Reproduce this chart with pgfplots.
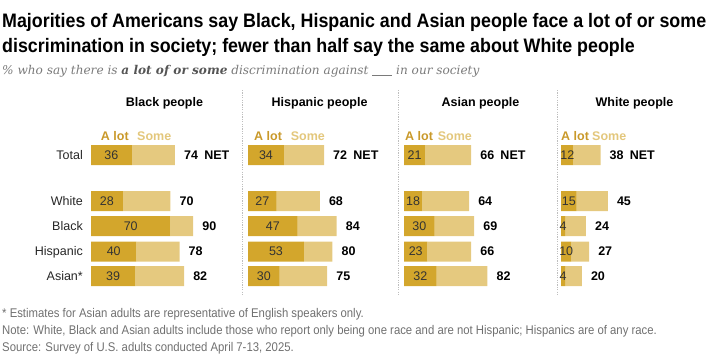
\documentclass[border=0pt]{standalone}
\usepackage{pgfplots}
\pgfplotsset{compat=1.18}
\usepackage{fontspec}
\setmainfont{Liberation Sans}
\newfontfamily\titlefont[FakeStretch=0.915]{Liberation Sans}
\newfontfamily\notefont[FakeStretch=0.9]{Liberation Sans}
\newfontfamily\subfont{DejaVu Serif}
\definecolor{alot}{HTML}{D3A62C}
\definecolor{some}{HTML}{E5C97F}
\definecolor{alottext}{HTML}{C9992A}
\definecolor{sometext}{HTML}{E3C77C}
\definecolor{notegray}{HTML}{707070}
\definecolor{subgray}{HTML}{7A7A7A}
\definecolor{subdark}{HTML}{555555}
\definecolor{divgray}{HTML}{BEBEBE}
\pgfplotsset{
  pewbase/.style={bar width=20, hide axis, clip=false,
    xmin=0, xmax=100, ymin=-290, ymax=0,
    x=#1, y=1bp, anchor=origin,
    /pgf/number format/assume math mode=true},
  pew/.style={pewbase=#1, xbar stacked},
  pewlab/.style={pewbase=#1, xbar},
  alotplot/.style={fill=alot, draw=none, point meta=x, nodes near coords,
    every node near coord/.append style={anchor=center, inner sep=0pt,
      font=\fontsize{12.5bp}{14bp}\selectfont, text=black!80}},
  someplot/.style={fill=some, draw=none},
  netplot/.style={draw=none, fill=none, point meta=explicit symbolic, nodes near coords,
    every node near coord/.append style={anchor=west, inner sep=0pt, xshift=9bp,
      font=\fontsize{12.5bp}{14bp}\selectfont\bfseries, text=black}},
}
\begin{document}
\begin{tikzpicture}[x=1bp,y=1bp]
\useasboundingbox (0,0) rectangle (720,-360);
% titles
\node[anchor=base west, inner sep=0] at (2,-27) {\titlefont\bfseries\fontsize{19.5bp}{22bp}\selectfont Majorities of Americans say Black, Hispanic and Asian people face a lot of or some};
\node[anchor=base west, inner sep=0] at (2,-52) {\titlefont\bfseries\fontsize{19.5bp}{22bp}\selectfont discrimination in society; fewer than half say the same about White people};
\node[anchor=base west, inner sep=0, text=subgray] at (2,-74) {\subfont\itshape\fontsize{12.1bp}{14bp}\selectfont \% who say there is \textcolor{subdark}{\textbf{a lot of or some}} discrimination against \rule[-1bp]{20bp}{0.5bp} in our society};
% dividers
\foreach \xx in {242,398,557} \draw[divgray, line width=1bp, dash pattern=on 1.2bp off 1.2bp] (\xx,-90) -- (\xx,-296);
% headers
\foreach \xx/\tt in {164.5/Black people,319.6/Hispanic people,480.5/Asian people,634.5/White people}
  \node[anchor=base, inner sep=0] at (\xx,-106) {\fontsize{12.5bp}{14bp}\selectfont\bfseries \tt};
% legend labels
\foreach \xa/\xs in {100.7/137,254/290.7,405/437.7,561/592}{
  \node[anchor=base west, inner sep=0, text=alottext] at (\xa,-140.5) {\fontsize{12.5bp}{14bp}\selectfont\bfseries A lot};
  \node[anchor=base west, inner sep=0, text=sometext] at (\xs,-140.5) {\fontsize{12.5bp}{14bp}\selectfont\bfseries Some};
}
% row labels
\foreach \yy/\tt in {155/Total,201/White,226/Black,251.5/Hispanic,276/Asian*}
  \node[anchor=base east, inner sep=0, text=black!85] at (83,-\yy-4.4) {\fontsize{12.5bp}{14bp}\selectfont \tt};
% Panel 1: Black people
\begin{axis}[pew=1.135bp, at={(91bp,0bp)}]
\addplot[alotplot] coordinates {(36,-155) (28,-201) (70,-226) (40,-251.5) (39,-276)};
\addplot[someplot] coordinates {(38,-155) (42,-201) (20,-226) (38,-251.5) (43,-276)};
\end{axis}
\begin{axis}[pewlab=1.135bp, at={(91bp,0bp)}]
\addplot[netplot] coordinates {(74,-155) [74\enspace NET] (70,-201) [70] (90,-226) [90] (78,-251.5) [78] (82,-276) [82]};
\end{axis}
% Panel 2: Hispanic people
\begin{axis}[pew=1.056bp, at={(248bp,0bp)}]
\addplot[alotplot] coordinates {(34,-155) (27,-201) (47,-226) (53,-251.5) (30,-276)};
\addplot[someplot] coordinates {(38,-155) (41,-201) (37,-226) (27,-251.5) (45,-276)};
\end{axis}
\begin{axis}[pewlab=1.056bp, at={(248bp,0bp)}]
\addplot[netplot] coordinates {(72,-155) [72\enspace NET] (68,-201) [68] (84,-226) [84] (80,-251.5) [80] (75,-276) [75]};
\end{axis}
% Panel 3: Asian people
\begin{axis}[pew=1.017bp, at={(404bp,0bp)}]
\addplot[alotplot] coordinates {(21,-155) (18,-201) (30,-226) (23,-251.5) (32,-276)};
\addplot[someplot] coordinates {(45,-155) (46,-201) (39,-226) (43,-251.5) (50,-276)};
\end{axis}
\begin{axis}[pewlab=1.017bp, at={(404bp,0bp)}]
\addplot[netplot] coordinates {(66,-155) [66\enspace NET] (64,-201) [64] (69,-226) [69] (66,-251.5) [66] (82,-276) [82]};
\end{axis}
% Panel 4: White people
\begin{axis}[pew=1.04bp, at={(561bp,0bp)}]
\addplot[alotplot] coordinates {(12,-155) (15,-201) (4,-226) (10,-251.5) (4,-276)};
\addplot[someplot] coordinates {(26,-155) (30,-201) (20,-226) (17,-251.5) (16,-276)};
\end{axis}
\begin{axis}[pewlab=1.04bp, at={(561bp,0bp)}]
\addplot[netplot] coordinates {(38,-155) [38\enspace NET] (45,-201) [45] (24,-226) [24] (27,-251.5) [27] (20,-276) [20]};
\end{axis}
% footnotes
\node[anchor=base west, inner sep=0, text=notegray] at (2,-317.5) {\notefont\fontsize{12.6bp}{14bp}\selectfont * Estimates for Asian adults are representative of English speakers only.};
\node[anchor=base west, inner sep=0, text=notegray] at (2,-334.5) {\notefont\fontsize{12.6bp}{14bp}\selectfont Note: White, Black and Asian adults include those who report only being one race and are not Hispanic; Hispanics are of any race.};
\node[anchor=base west, inner sep=0, text=notegray] at (2,-351.5) {\notefont\fontsize{12.6bp}{14bp}\selectfont Source: Survey of U.S. adults conducted April 7-13, 2025.};
\end{tikzpicture}
\end{document}
